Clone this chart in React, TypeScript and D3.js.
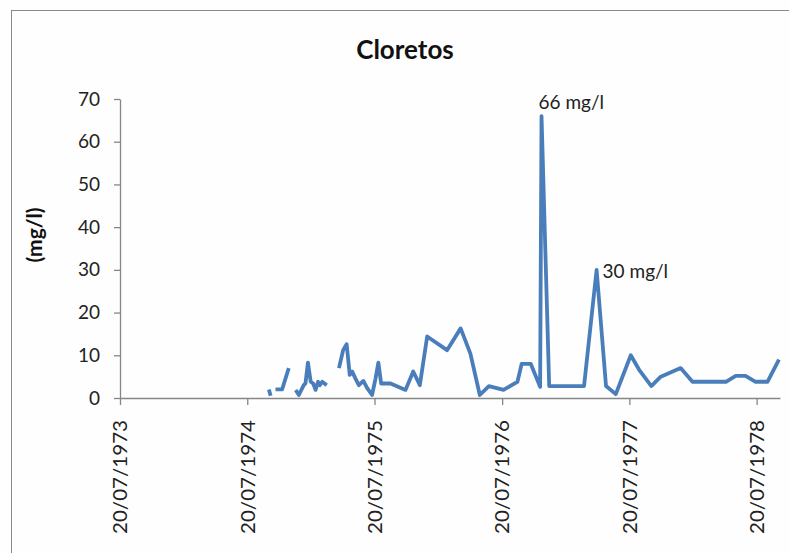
import React, { useEffect, useRef } from 'react';
import * as d3 from 'd3';

// Sample dates (null value = gap in the series, as in the source sheet)
const sampleDates = [
    '1974-09-20', '1974-09-25', '1974-10-02',
    '1974-10-09', '1974-10-28', '1974-11-16', '1974-11-26',
    '1974-12-06', '1974-12-15', '1974-12-29', '1975-01-03', '1975-01-10', '1975-01-18',
    '1975-01-25', '1975-02-01', '1975-02-08', '1975-02-13', '1975-02-20', '1975-03-05', '1975-03-20',
    '1975-04-09', '1975-04-21', '1975-05-01', '1975-05-10', '1975-05-17', '1975-05-26',
    '1975-06-05', '1975-06-18', '1975-06-29', '1975-07-13', '1975-07-23', '1975-07-31',
    '1975-08-08', '1975-09-04', '1975-10-17', '1975-11-08', '1975-11-27', '1975-12-18',
    '1976-02-13', '1976-03-23', '1976-04-20', '1976-05-17', '1976-06-12', '1976-07-24',
    '1976-09-02', '1976-09-14', '1976-10-10', '1976-11-06', '1976-11-10', '1976-12-02',
    '1977-03-12', '1977-04-17', '1977-05-14', '1977-06-11', '1977-07-24', '1977-08-17',
    '1977-09-21', '1977-10-18', '1977-12-14', '1978-01-17', '1978-04-23', '1978-05-21',
    '1978-06-18', '1978-07-17', '1978-08-20', '1978-09-22',
];

const chloride: (number | null)[] = [
    2, 0.5, null,
    2, 2, 7, null,
    1.9, 0.7, 3, 3.4, 8.3, 3.8,
    3.4, 1.9, 3.8, 3, 3.8, 3, null,
    7, 11.2, 12.6, 5.4, 6.2, 4.6,
    3, 4, 2.3, 0.7, 4.6, 8.3,
    3.4, 3.4, 1.9, 6.2, 3, 14.4,
    11.2, 16.3, 10.4, 0.7, 2.8, 1.9,
    3.8, 8, 8, 2.6, 66, 2.8,
    2.8, 30, 2.8, 0.9, 10, 6.6,
    2.8, 5, 7, 3.8, 3.8, 5.2,
    5.2, 3.8, 3.8, 9,
];

const xTickDates = ['1973-07-20', '1974-07-20', '1975-07-20', '1976-07-20', '1977-07-20', '1978-07-20'];
const xDomain = ['1973-07-20', '1978-09-25'];
const yTicks = [0, 10, 20, 30, 40, 50, 60, 70];

const annotations = [
    { date: '1976-11-10', value: 66, label: '66 mg/l' },
    { date: '1977-04-17', value: 30, label: '30 mg/l' },
];
// label offsets from the peak point (px)
const labelOffsets: Record<string, [number, number]> = {
    '66 mg/l': [-3, -7],
    '30 mg/l': [6, 8],
};

const parse = d3.timeParse('%Y-%m-%d');
const FONT = 'Lato, "Open Sans", sans-serif';

const App: React.FC = () => {
    const svgRef = useRef<SVGSVGElement>(null);
    const width = 789;
    const height = 553;

    useEffect(() => {
        if (!svgRef.current) return;
        const svg = d3.select(svgRef.current);
        svg.selectAll('*').remove();

        // background + chart frame (frame runs off the right/bottom edge)
        svg.append('rect').attr('width', width).attr('height', height).attr('fill', '#fefefe');
        svg.append('rect')
            .attr('x', 11.5).attr('y', 10.5)
            .attr('width', width).attr('height', height)
            .attr('fill', 'none').attr('stroke', '#8a8a8a').attr('stroke-width', 1);

        const x = d3.scaleTime()
            .domain(xDomain.map(d => parse(d) as Date))
            .range([120, 780]);
        const y = d3.scaleLinear().domain([0, 70]).range([398, 99]);

        // Title
        svg.append('text')
            .attr('x', 405).attr('y', 59)
            .attr('text-anchor', 'middle')
            .style('font-family', FONT).style('font-size', '26px').style('font-weight', 'bold')
            .attr('fill', '#111')
            .text('Cloretos');

        // Y axis title
        svg.append('text')
            .attr('transform', 'translate(42,235) rotate(-90)')
            .attr('text-anchor', 'middle')
            .style('font-family', FONT).style('font-size', '21px').style('font-weight', 'bold')
            .attr('fill', '#111')
            .text('(mg/l)');

        // Y axis
        const yAxis = svg.append('g')
            .attr('transform', 'translate(120,0)')
            .call(d3.axisLeft(y).tickValues(yTicks).tickSize(6).tickSizeOuter(0).tickPadding(14));
        yAxis.select('.domain').attr('stroke', '#868686').attr('stroke-width', 1.3);
        yAxis.selectAll('.tick line').attr('stroke', '#868686').attr('stroke-width', 1.3);
        yAxis.selectAll('.tick text')
            .style('font-family', FONT).style('font-size', '19px')
            .attr('fill', '#222');

        // X axis
        const fmt = d3.timeFormat('%d/%m/%Y');
        const xAxis = svg.append('g')
            .attr('transform', `translate(0,${y(0)})`)
            .call(d3.axisBottom(x)
                .tickValues(xTickDates.map(d => parse(d) as Date))
                .tickSize(7).tickSizeOuter(0)
                .tickFormat(d => fmt(d as Date)));
        xAxis.select('.domain').attr('stroke', '#868686').attr('stroke-width', 1.3);
        xAxis.selectAll('.tick line').attr('stroke', '#868686').attr('stroke-width', 1.3);
        xAxis.selectAll('.tick text')
            .attr('transform', 'rotate(-90)')
            .attr('text-anchor', 'end')
            .attr('x', -22).attr('y', 0).attr('dy', '0.36em')
            .attr('textLength', 114).attr('lengthAdjust', 'spacingAndGlyphs')
            .style('font-family', FONT).style('font-size', '19px')
            .attr('fill', '#222');

        // Series
        const points = sampleDates.map((d, i) => ({ date: parse(d) as Date, value: chloride[i] }));
        const line = d3.line<{ date: Date; value: number | null }>()
            .defined(d => d.value !== null)
            .x(d => x(d.date))
            .y(d => y(d.value as number));

        svg.append('path')
            .datum(points)
            .attr('d', line)
            .attr('fill', 'none')
            .attr('stroke', '#4a7ebb')
            .attr('stroke-width', 3.8)
            .attr('stroke-linejoin', 'round');

        // Peak labels
        annotations.forEach(a => {
            const [dx, dy] = labelOffsets[a.label] || [3, -5];
            svg.append('text')
                .attr('x', x(parse(a.date) as Date) + dx)
                .attr('y', y(a.value) + dy)
                .style('font-family', FONT).style('font-size', '19px')
                .attr('fill', '#222')
                .text(a.label);
        });
    }, []);

    return (
        <svg
            ref={svgRef}
            width={width}
            height={height}
            viewBox={`0 0 ${width} ${height}`}
            style={{ position: 'absolute', left: 0, top: 0, display: 'block' }}
        />
    );
};

export default App;
